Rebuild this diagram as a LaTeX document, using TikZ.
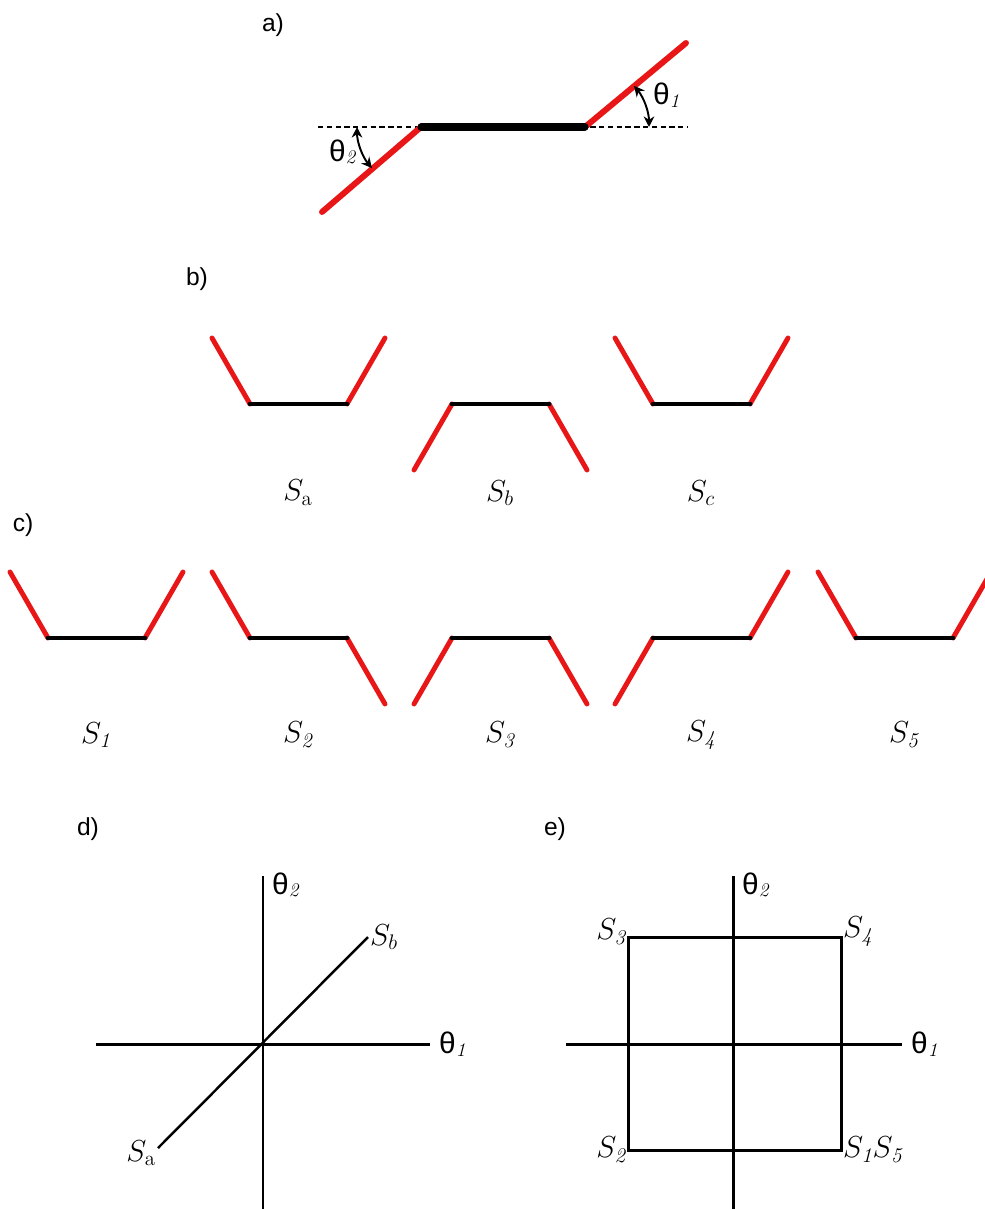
\documentclass[tikz,border=0pt]{standalone}
\usepackage{fontspec}
\setsansfont{Liberation Sans}
\usetikzlibrary{arrows.meta, calc}
\definecolor{armred}{RGB}{232,22,22}
\tikzset{
  panel/.style    = {font=\sffamily\fontsize{14}{14}\selectfont, inner sep=0pt},
  redarm/.style   = {draw=armred, line width=2.8pt, line cap=round},
  base/.style     = {draw=black, line width=2.8pt, line cap=round},
  axis/.style     = {draw=black, line width=1.7pt},
  angarrow/.style = {line width=1.1pt, {Stealth[length=6pt,width=6pt]}-{Stealth[length=6pt,width=6pt]}},
  lab/.style      = {inner sep=1pt},
}
\newcommand{\thlab}[1]{{\sffamily\fontsize{17}{17}\selectfont θ}\raisebox{-1.5pt}{\fontsize{11}{11}\selectfont\itshape #1}}
\newcommand{\slab}[1]{{\fontsize{17}{17}\selectfont$S_{#1}$}}

\begin{document}
\begin{tikzpicture}[x=0.02cm, y=0.02cm]
    \useasboundingbox (0,0) rectangle (984,-1209);

    %% a) two arms and the base
    \node[panel] (pa) at (273,-25) {a)};
    \coordinate (dl) at (318,-127);
    \coordinate (dr) at (688,-127);
    \coordinate (ka) at (421,-127);
    \coordinate (kb) at (585,-127);
    \coordinate (ta) at (322,-212);
    \coordinate (tb) at (686,-43);
    \draw[line width=1.1pt, dash pattern=on 3pt off 2pt] (dl) -- (dr);
    \draw[redarm, line width=3.4pt] (ka) -- (ta);
    \draw[redarm, line width=3.4pt] (kb) -- (tb);
    \draw[base, line width=4pt] (ka) -- (kb);
    \draw[angarrow] ($(kb)+(0:1.28cm)$) arc[start angle=0, end angle=40, radius=1.28cm];
    \draw[angarrow] ($(ka)+(180:1.28cm)$) arc[start angle=180, end angle=220, radius=1.28cm];
    \node[lab, anchor=west] (th1) at (651,-95) {\thlab{1}};
    \node[lab, anchor=west] (th2) at (327,-152) {\thlab{2}};

    %% b) three states
    \node[panel] (pb) at (197,-279) {b)};
    \foreach \x/\l/\r/\nm/\sub in {250/1/1/a/\mathrm{a}, 452/-1/-1/b/b, 653/1/1/c/c}{
      \coordinate (b\nm1) at ({\x-38},{-404+66*\l});
      \coordinate (b\nm2) at (\x,-404);
      \coordinate (b\nm3) at ({\x+97},-404);
      \coordinate (b\nm4) at ({\x+135},{-404+66*\r});
      \draw[redarm] (b\nm1) -- (b\nm2);
      \draw[redarm] (b\nm3) -- (b\nm4);
      \draw[base] (b\nm2) -- (b\nm3);
      \node[lab] (lb\nm) at ({\x+48},-493) {\slab{\sub}};
    }

    %% c) five states
    \node[panel] (pc) at (23,-525) {c)};
    \foreach \x/\l/\r/\nm in {48/1/1/1, 250/1/-1/2, 452/-1/-1/3, 653/-1/1/4, 856/1/1/5}{
      \coordinate (c\nm1) at ({\x-38},{-638+66*\l});
      \coordinate (c\nm2) at (\x,-638);
      \coordinate (c\nm3) at ({\x+97},-638);
      \coordinate (c\nm4) at ({\x+135},{-638+66*\r});
      \draw[redarm] (c\nm1) -- (c\nm2);
      \draw[redarm] (c\nm3) -- (c\nm4);
      \draw[base] (c\nm2) -- (c\nm3);
      \node[lab] (lc\nm) at ({\x+48},-735) {\slab{\mathit{\nm}}};
    }

    %% d) angle plane, b-states
    \node[panel] (pd) at (88,-829) {d)};
    \coordinate (dyt) at (263,-876);
    \coordinate (dyb) at (263,-1209);
    \coordinate (dxl) at (96,-1044);
    \coordinate (dxr) at (430,-1044);
    \coordinate (dsa) at (158,-1148);
    \coordinate (dsb) at (368,-937);
    \draw[axis] (dyt) -- (dyb);
    \draw[axis] (dxl) -- (dxr);
    \draw[axis, line width=1.4pt] (dsa) -- (dsb);
    \node[lab, anchor=west] (dth2) at (dyt) [xshift=4pt, yshift=-5pt] {\thlab{2}};
    \node[lab, anchor=west] (dth1) at (dxr) [xshift=4pt] {\thlab{1}};
    \node[lab, anchor=west] (dlsb) at (dsb) {\slab{b}};
    \node[lab, anchor=east] (dlsa) at (dsa) [yshift=-3pt] {\slab{\mathrm{a}}};

    %% e) angle plane, c-states
    \node[panel] (pe) at (555,-829) {e)};
    \coordinate (eyt) at (733,-876);
    \coordinate (eyb) at (733,-1209);
    \coordinate (exl) at (566,-1044);
    \coordinate (exr) at (902,-1044);
    \coordinate (e3) at (628,-937);
    \coordinate (e1) at (841,-1150);
    \draw[axis] (eyt) -- (eyb);
    \draw[axis] (exl) -- (exr);
    \draw[axis] (e3) rectangle (e1);
    \node[lab, anchor=west] (eth2) at (eyt) [xshift=4pt, yshift=-5pt] {\thlab{2}};
    \node[lab, anchor=west] (eth1) at (exr) [xshift=4pt] {\thlab{1}};
    \node[lab, anchor=east] (els3) at (e3) [yshift=3pt] {\slab{\mathit{3}}};
    \node[lab, anchor=west] (els4) at (e3 -| e1) [yshift=3pt] {\slab{\mathit{4}}};
    \node[lab, anchor=east] (els2) at (e3 |- e1) {\slab{\mathit{2}}};
    \node[lab, anchor=west] (els15) at (e1) {\slab{\mathit{1}}\slab{\mathit{5}}};
\end{tikzpicture}
\end{document}
